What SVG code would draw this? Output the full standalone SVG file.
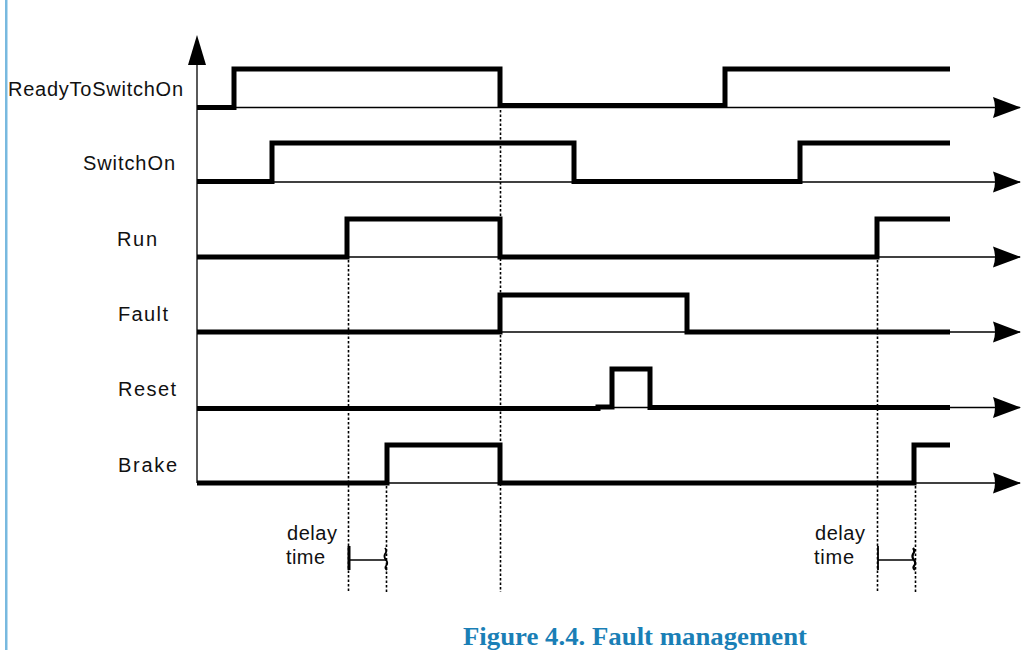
<svg xmlns="http://www.w3.org/2000/svg" width="1021" height="650" viewBox="0 0 1021 650">
  <defs>
    <marker id="arrowR" viewBox="0 0 28 22" refX="27" refY="11" markerWidth="28" markerHeight="22" markerUnits="userSpaceOnUse" orient="auto">
      <path d="M0,0.5 L28,11 L0,21.5 Q4,11 0,0.5 Z" fill="#000"/>
    </marker>
  </defs>
  <style>
    .label { font-family: "Liberation Sans", Arial, sans-serif; font-size: 20px; fill: #111; }
    .base { stroke: #000; stroke-width: 1.3; fill: none; }
    .signal { stroke: #000; stroke-width: 5; fill: none; stroke-linejoin: miter; stroke-linecap: butt; }
    .dotted { stroke: #000; stroke-width: 1.6; stroke-dasharray: 2.5 2; fill: none; }
    .caption { font-family: "Liberation Serif", "Times New Roman", serif; font-weight: bold; font-size: 26px; fill: #1a7fb6; }
  </style>

  <rect width="1021" height="650" fill="#ffffff"/>

  <!-- margin rule -->
  <rect x="5" y="0" width="2.5" height="650" fill="#78b9df"/>

  <!-- vertical axis with arrow -->
  <g id="axis">
    <line x1="197" y1="483" x2="197" y2="62" class="base" stroke-width="1.5"/>
    <path d="M197,35 L206,65 L188,65 Z" fill="#000"/>
  </g>

  <!-- ReadyToSwitchOn -->
  <g id="ready-to-switch-on">
    <text class="label" x="8" y="96" textLength="175" lengthAdjust="spacing">ReadyToSwitchOn</text>
    <line class="base" x1="197" y1="107.5" x2="1020" y2="107.5" marker-end="url(#arrowR)"/>
    <path class="signal" d="M197,107.5 H234 V69 H500 V105.5 H725 V69 H950"/>
  </g>

  <!-- SwitchOn -->
  <g id="switch-on">
    <text class="label" x="83" y="170" textLength="92" lengthAdjust="spacing">SwitchOn</text>
    <line class="base" x1="197" y1="182" x2="1020" y2="182" marker-end="url(#arrowR)"/>
    <path class="signal" d="M197,181.5 H272 V143 H574 V181.5 H800 V143 H950"/>
  </g>

  <!-- Run -->
  <g id="run">
    <text class="label" x="117" y="246" textLength="40" lengthAdjust="spacing">Run</text>
    <line class="base" x1="197" y1="257" x2="1020" y2="257" marker-end="url(#arrowR)"/>
    <path class="signal" d="M197,257 H347 V219 H500 V257 H877 V219 H950"/>
  </g>

  <!-- Fault -->
  <g id="fault">
    <text class="label" x="118" y="321" textLength="50" lengthAdjust="spacing">Fault</text>
    <line class="base" x1="197" y1="332" x2="1020" y2="332" marker-end="url(#arrowR)"/>
    <path class="signal" d="M197,332 H500 V295 H687 V332 H950"/>
  </g>

  <!-- Reset -->
  <g id="reset">
    <text class="label" x="118" y="396" textLength="58" lengthAdjust="spacing">Reset</text>
    <line class="base" x1="197" y1="407.5" x2="1020" y2="407.5" marker-end="url(#arrowR)"/>
    <path class="signal" d="M197,408.5 H598 V407 H612 V369 H650 V407.5 H950"/>
  </g>

  <!-- Brake -->
  <g id="brake">
    <text class="label" x="118" y="472" textLength="59" lengthAdjust="spacing">Brake</text>
    <line class="base" x1="197" y1="483" x2="1020" y2="483" marker-end="url(#arrowR)"/>
    <path class="signal" d="M197,483 H387 V445 H500 V483 H914 V445 H950"/>
  </g>

  <!-- timing reference lines and delay markers -->
  <g id="connectors">
    <line class="dotted" x1="348.5" y1="260" x2="348.5" y2="592"/>
    <line class="dotted" x1="386.5" y1="486" x2="386.5" y2="592"/>
    <line class="dotted" x1="500.5" y1="110" x2="500.5" y2="592"/>
    <line class="dotted" x1="877.5" y1="260" x2="877.5" y2="592"/>
    <line class="dotted" x1="915.5" y1="486" x2="915.5" y2="592"/>

    <!-- first delay interval -->
    <line x1="349" y1="546" x2="349" y2="570" stroke="#000" stroke-width="3"/>
    <line x1="349" y1="560" x2="386" y2="560" stroke="#000" stroke-width="1.3"/>
    <path d="M385,548 q2.5,3 0,6 q-1.5,3 1,6 q2.5,3 0,6 q-1.5,2 1,4" stroke="#000" stroke-width="1.8" fill="none"/>

    <!-- second delay interval -->
    <line x1="878" y1="546" x2="878" y2="570" stroke="#000" stroke-width="1.8"/>
    <line x1="878" y1="560" x2="913" y2="560" stroke="#000" stroke-width="1.3"/>
    <path d="M913,548 q2.5,3 0,6 q-1.5,3 1,6 q2.5,3 0,6 q-1.5,2 1,4" stroke="#000" stroke-width="2.2" fill="none"/>
  </g>

  <g id="delay-labels">
    <text class="label" x="287" y="540" textLength="50" lengthAdjust="spacing">delay</text>
    <text class="label" x="286" y="564" textLength="39" lengthAdjust="spacing">time</text>
    <text class="label" x="815" y="540" textLength="50" lengthAdjust="spacing">delay</text>
    <text class="label" x="814" y="564" textLength="40" lengthAdjust="spacing">time</text>
  </g>

  <text class="caption" x="463" y="645" textLength="344" lengthAdjust="spacingAndGlyphs">Figure 4.4. Fault management</text>
</svg>
